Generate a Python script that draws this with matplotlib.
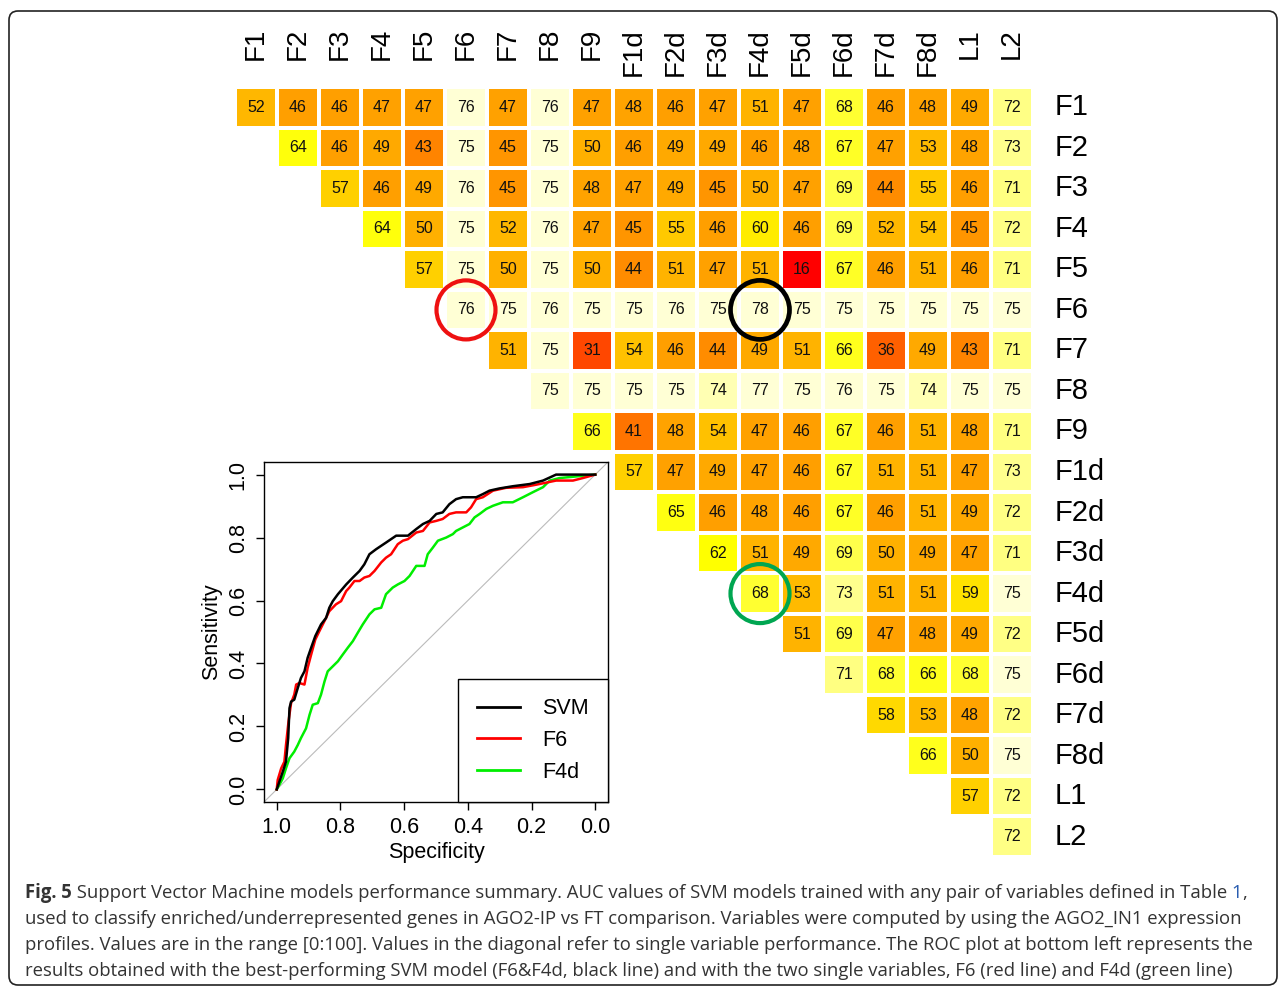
import numpy as np
import matplotlib
matplotlib.use("Agg")
import matplotlib.pyplot as plt
from matplotlib.colors import LinearSegmentedColormap
from matplotlib.patches import Ellipse, FancyBboxPatch
from matplotlib.transforms import blended_transform_factory

plt.rcParams['font.family'] = ['Liberation Sans', 'DejaVu Sans']

# --- data ---
labels = ["F1", "F2", "F3", "F4", "F5", "F6", "F7", "F8", "F9",
          "F1d", "F2d", "F3d", "F4d", "F5d", "F6d", "F7d", "F8d", "L1", "L2"]

# upper triangle, each row starts at the diagonal
row_f1 = [52, 46, 46, 47, 47, 76, 47, 76, 47, 48, 46, 47, 51, 47, 68, 46, 48, 49, 72]
row_f2 = [64, 46, 49, 43, 75, 45, 75, 50, 46, 49, 49, 46, 48, 67, 47, 53, 48, 73]
row_f3 = [57, 46, 49, 76, 45, 75, 48, 47, 49, 45, 50, 47, 69, 44, 55, 46, 71]
row_f4 = [64, 50, 75, 52, 76, 47, 45, 55, 46, 60, 46, 69, 52, 54, 45, 72]
row_f5 = [57, 75, 50, 75, 50, 44, 51, 47, 51, 16, 67, 46, 51, 46, 71]
row_f6 = [76, 75, 76, 75, 75, 76, 75, 78, 75, 75, 75, 75, 75, 75]
row_f7 = [51, 75, 31, 54, 46, 44, 49, 51, 66, 36, 49, 43, 71]
row_f8 = [75, 75, 75, 75, 74, 77, 75, 76, 75, 74, 75, 75]
row_f9 = [66, 41, 48, 54, 47, 46, 67, 46, 51, 48, 71]
row_f1d = [57, 47, 49, 47, 46, 67, 51, 51, 47, 73]
row_f2d = [65, 46, 48, 46, 67, 46, 51, 49, 72]
row_f3d = [62, 51, 49, 69, 50, 49, 47, 71]
row_f4d = [68, 53, 73, 51, 51, 59, 75]
row_f5d = [51, 69, 47, 48, 49, 72]
row_f6d = [71, 68, 66, 68, 75]
row_f7d = [58, 53, 48, 72]
row_f8d = [66, 50, 75]
row_l1 = [57, 72]
row_l2 = [72]

rows = [row_f1, row_f2, row_f3, row_f4, row_f5, row_f6, row_f7, row_f8, row_f9,
        row_f1d, row_f2d, row_f3d, row_f4d, row_f5d, row_f6d, row_f7d, row_f8d,
        row_l1, row_l2]

# ROC curves (specificity, sensitivity)
svm_spec = [1.000, 0.992, 0.981, 0.971, 0.964, 0.960, 0.955, 0.945, 0.934, 0.924, 0.913,
            0.903, 0.892, 0.879, 0.861, 0.845, 0.835, 0.824, 0.808, 0.782, 0.761, 0.740,
            0.725, 0.709, 0.688, 0.657, 0.625, 0.588, 0.562, 0.541, 0.520, 0.499, 0.479,
            0.458, 0.437, 0.416, 0.374, 0.353, 0.332, 0.301, 0.259, 0.206, 0.164, 0.123, 0.000]
svm_sens = [0.000, 0.024, 0.056, 0.088, 0.163, 0.258, 0.279, 0.285, 0.322, 0.354, 0.375,
            0.418, 0.450, 0.487, 0.524, 0.545, 0.577, 0.598, 0.620, 0.651, 0.673, 0.694,
            0.715, 0.747, 0.763, 0.784, 0.806, 0.806, 0.827, 0.843, 0.853, 0.875, 0.880,
            0.906, 0.922, 0.928, 0.928, 0.938, 0.949, 0.956, 0.963, 0.970, 0.981, 1.000, 1.000]

f6_spec = [1.000, 0.997, 0.986, 0.976, 0.971, 0.963, 0.955, 0.945, 0.939, 0.929, 0.913,
           0.903, 0.892, 0.879, 0.866, 0.845, 0.835, 0.814, 0.798, 0.782, 0.772, 0.756,
           0.740, 0.725, 0.709, 0.693, 0.672, 0.657, 0.641, 0.620, 0.604, 0.588, 0.562,
           0.541, 0.520, 0.499, 0.479, 0.458, 0.437, 0.405, 0.390, 0.374, 0.353, 0.321,
           0.280, 0.227, 0.185, 0.123, 0.070, 0.039, 0.000]
f6_sens = [0.000, 0.030, 0.067, 0.088, 0.141, 0.216, 0.274, 0.301, 0.333, 0.338, 0.333,
           0.386, 0.428, 0.476, 0.503, 0.545, 0.566, 0.588, 0.598, 0.630, 0.641, 0.662,
           0.662, 0.673, 0.678, 0.694, 0.721, 0.736, 0.747, 0.779, 0.790, 0.795, 0.816,
           0.821, 0.848, 0.853, 0.859, 0.875, 0.880, 0.880, 0.896, 0.922, 0.928, 0.949,
           0.958, 0.960, 0.968, 0.981, 0.981, 0.989, 1.000]

f4d_spec = [1.000, 0.992, 0.981, 0.971, 0.960, 0.945, 0.934, 0.924, 0.908, 0.897, 0.887,
            0.871, 0.861, 0.850, 0.840, 0.824, 0.808, 0.793, 0.777, 0.761, 0.746, 0.730,
            0.709, 0.693, 0.672, 0.657, 0.636, 0.620, 0.599, 0.583, 0.562, 0.536, 0.526,
            0.510, 0.494, 0.468, 0.447, 0.437, 0.416, 0.395, 0.379, 0.363, 0.342, 0.321,
            0.290, 0.259, 0.227, 0.196, 0.164, 0.143, 0.112, 0.000]
f4d_sens = [0.000, 0.014, 0.035, 0.067, 0.099, 0.120, 0.141, 0.163, 0.194, 0.237, 0.269,
            0.274, 0.301, 0.343, 0.375, 0.391, 0.407, 0.428, 0.450, 0.471, 0.497, 0.524,
            0.556, 0.572, 0.577, 0.620, 0.641, 0.651, 0.662, 0.678, 0.710, 0.710, 0.747,
            0.768, 0.790, 0.800, 0.811, 0.821, 0.832, 0.843, 0.864, 0.875, 0.891, 0.901,
            0.912, 0.912, 0.928, 0.944, 0.960, 0.981, 0.989, 1.000]

cap_head = "Fig. 5"
cap_first = (" Support Vector Machine models performance summary. AUC values of SVM models "
             "trained with any pair of variables defined in Table ")
cap_ref = "1"
caption = [
    "used to classify enriched/underrepresented genes in AGO2-IP vs FT comparison. Variables were computed by using the AGO2_IN1 expression",
    "profiles. Values are in the range [0:100]. Values in the diagonal refer to single variable performance. The ROC plot at bottom left represents the",
    "results obtained with the best-performing SVM model (F6&F4d, black line) and with the two single variables, F6 (red line) and F4d (green line)",
]

# --- figure ---
W, H = 1284, 989
fig = plt.figure(figsize=(W / 100, H / 100), dpi=100)

n = len(labels)
mat = np.full((n, n), np.nan)
for i, r in enumerate(rows):
    mat[i, i:] = r
mat = np.ma.masked_invalid(mat)

vmin, vmax = 16, 78
anchors = [(16, "#FF0000"), (31, "#FF4800"), (36, "#FF6000"), (41, "#FF7400"),
           (44, "#FF8C00"), (46, "#FFA000"), (48, "#FFA200"), (50, "#FFB000"),
           (53, "#FFBA00"), (55, "#FFC800"), (57, "#FFCF00"), (59, "#FFE200"),
           (62, "#FFFF00"), (65, "#FFFF10"), (68, "#FFFF30"), (71, "#FFFF80"),
           (73, "#FFFF88"), (75, "#FFFFD5"), (78, "#FFFFD5")]
cmap = LinearSegmentedColormap.from_list(
    "heatish", [((v - vmin) / (vmax - vmin), c) for v, c in anchors])

ax = fig.add_axes([235 / W, 1 - 857 / H, (1033 - 235) / W, (857 - 87) / H])
ax.pcolormesh(np.arange(n + 1) - 0.5, np.arange(n + 1) - 0.5, mat, cmap=cmap,
              vmin=vmin, vmax=vmax, edgecolors="white", linewidth=1.5)
ax.set_xlim(-0.5, n - 0.5)
ax.set_ylim(n - 0.5, -0.5)
ax.axis("off")

for i in range(n):
    for j in range(i, n):
        ax.text(j, i, str(int(mat[i, j])), ha="center", va="center",
                fontsize=11.5, color="#111111")

top_tr = blended_transform_factory(ax.transData, fig.transFigure)
side_tr = blended_transform_factory(fig.transFigure, ax.transData)
for k, lab in enumerate(labels):
    ax.text(k, 1 - 28 / H, lab, transform=top_tr, rotation=90, ha="center",
            va="top", fontsize=20, clip_on=False)
    ax.text(1055 / W, k, lab, transform=side_tr, ha="left", va="center",
            fontsize=21, clip_on=False)

# highlight circles (cell units: 42 x 40.5 px)
i6, i4d = labels.index("F6"), labels.index("F4d")
for (cx, cy), col, lw in [((i6, i6), "#EE1111", 3.0),
                          ((i4d, i6), "black", 3.4),
                          ((i4d, i4d), "#00A651", 3.0)]:
    ax.add_patch(Ellipse((cx, cy), 2 * 29.5 / 42, 2 * 29.5 / 40.5, fill=False,
                         edgecolor=col, linewidth=lw, zorder=10, clip_on=False))

# --- ROC inset ---
rx = fig.add_axes([264 / W, 1 - 802 / H, (608 - 264) / W, (802 - 462) / H])
rx.axline((1, 0), (0, 1), color="#BBBBBB", lw=0.8, zorder=1)
rx.plot(svm_spec, svm_sens, color="black", lw=1.8, label="SVM", zorder=4)
rx.plot(f6_spec, f6_sens, color="#FF0000", lw=1.8, label="F6", zorder=3)
rx.plot(f4d_spec, f4d_sens, color="#00EE00", lw=1.8, label="F4d", zorder=2)
rx.set_xlim(1.04, -0.04)
rx.set_ylim(-0.04, 1.04)
ticks = [1.0, 0.8, 0.6, 0.4, 0.2, 0.0]
rx.set_xticks(ticks)
rx.set_xticklabels([f"{t:.1f}" for t in ticks])
rx.set_yticks(ticks)
rx.set_yticklabels([f"{t:.1f}" for t in ticks], rotation=90, va="center")
rx.tick_params(direction="out", length=6, width=1, labelsize=15.5, pad=5)
rx.set_xlabel("Specificity", fontsize=15.5, labelpad=3)
rx.set_ylabel("Sensitivity", fontsize=15.5, labelpad=4)
for s in rx.spines.values():
    s.set_linewidth(1.0)
leg = rx.legend(loc="lower right", borderaxespad=0, fancybox=False, fontsize=15.5,
                handlelength=2.0, handletextpad=1.0, labelspacing=0.5, borderpad=0.9,
                edgecolor="black", framealpha=1)
leg.get_frame().set_linewidth(1.0)
for h in leg.get_lines():
    h.set_linewidth(2.0)

# --- caption ---
cap_font = ['Open Sans', 'DejaVu Sans']
cap_col = "#333333"
x0, y0, dy = 25 / W, 1 - 898 / H, 26 / H
r = fig.canvas.get_renderer()


def layout_first_line(size):
    parts = [(cap_head, "bold", cap_col), (cap_first, "normal", cap_col),
             (cap_ref, "normal", "#2A5DB0"), (",", "normal", cap_col)]
    xs = x0 * W
    arts = []
    for txt, wgt, col in parts:
        t = fig.text(xs / W, y0, txt, fontsize=size, fontweight=wgt, color=col,
                     family=cap_font, va="baseline")
        xs = t.get_window_extent(r).x1
        arts.append(t)
    return arts, xs


arts, x_end = layout_first_line(14)
cap_size = 14 * (1255 - 25) / (x_end - x0 * W)
for a in arts:
    a.remove()
layout_first_line(cap_size)
for k, line in enumerate(caption):
    fig.text(x0, y0 - (k + 1) * dy, line, fontsize=cap_size, color=cap_col,
             family=cap_font, va="baseline")

# outer rounded frame
fig.patches.append(FancyBboxPatch((0.09, 0.04), 12.68, 9.74,
                                  boxstyle="round,pad=0,rounding_size=0.09",
                                  transform=fig.dpi_scale_trans, fill=False,
                                  edgecolor="#222222", linewidth=1.2))

fig.savefig("out.png", dpi=100)
